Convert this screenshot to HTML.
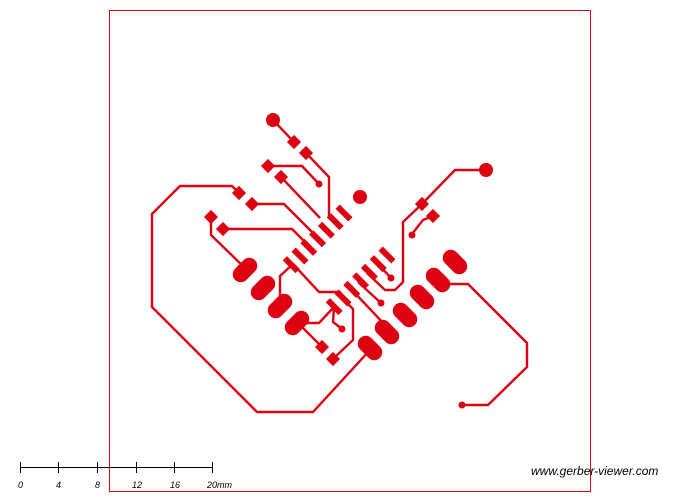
<!DOCTYPE html>
<html><head><meta charset="utf-8"><style>
html,body{margin:0;padding:0;background:#fff;width:700px;height:500px;overflow:hidden}
svg{display:block}
</style></head><body>
<svg id="pcb" width="700" height="500" viewBox="0 0 700 500" xmlns="http://www.w3.org/2000/svg">
<rect x="109.5" y="10.5" width="481" height="481" fill="none" stroke="#e00010" stroke-width="1"/>
<g id="tr" fill="none" stroke="#dd0010" stroke-width="2.4" stroke-linejoin="miter"></g>
<g id="pads" fill="#dd0010"></g>
<g stroke="#000" stroke-width="1">
<line x1="20" y1="467.5" x2="213" y2="467.5"/>
<line x1="20.5" y1="462" x2="20.5" y2="473"/><line x1="58.5" y1="462" x2="58.5" y2="473"/><line x1="97.5" y1="462" x2="97.5" y2="473"/><line x1="136.5" y1="462" x2="136.5" y2="473"/><line x1="174.5" y1="462" x2="174.5" y2="473"/><line x1="212.5" y1="462" x2="212.5" y2="473"/>
</g>
<g font-family="Liberation Sans, sans-serif" font-size="9" font-style="italic" fill="#000">
<text x="18" y="488">0</text><text x="56" y="488">4</text><text x="95" y="488">8</text><text x="132" y="488">12</text><text x="170" y="488">16</text><text x="207" y="488">20mm</text>
</g>
<text x="531" y="475" font-family="Liberation Sans, sans-serif" font-size="12" font-style="italic" fill="#000">www.gerber-viewer.com</text>
</svg>
<script>
var traces=[
"M239,193 L232,186 L180,186 L152,214 L152,307 L257,412 L313,412 L370,350",
"M450,284 L468,284 L527,343 L527,367 L488,405 L462,405",
"M273,120 L294,142",
"M306,153 L329,177 L329,217",
"M268,166 L302,166 L319,184",
"M281,177 L320,218",
"M252,204 L284,204 L312,232",
"M223,229 L292,229 L305,242",
"M211,217 L211,235 L245,268",
"M293,264 L280,276 L280,297",
"M293,264 L319,292 L337,292 L342,298",
"M334,307 L319,323 L303,323",
"M334,307 L333,322 L342,329",
"M303,328 L322,347",
"M342,298 L353,309 L353,340 L333,359",
"M358,282 L381,303",
"M377,263 L391,278",
"M367,273 L385,290 L395,290 L403,282 L403,222 L422,204 L455,170 L486,170",
"M433,216 L423,220 L412,234",
"M351,289 L386,326"
];
var padsSq=[[294,142],[306,153],[268,166],[281,177],[239,193],[252,204],[211,217],[223,229],[422,204],[433,216],[322,347],[333,359]];
var rounds=[[273,120,7],[486,170,7],[360,197,7],[319,184,3.5],[412,235,3.5],[391,278,3.5],[381,303,3.5],[342,329,3.5],[462,405,3.5]];
var ovalsRight=[[455,262],[438,280],[422,297],[405,315],[387,332],[370,348]];
var ovalsLeft=[[245,270],[263,288],[280,306],[297,323]];
var NS="http://www.w3.org/2000/svg";
var tr=document.getElementById('tr'),pd=document.getElementById('pads');
traces.forEach(function(d){var p=document.createElementNS(NS,'path');p.setAttribute('d',d);


tr.appendChild(p);});
padsSq.forEach(function(c){var r=document.createElementNS(NS,'rect');r.setAttribute('x',c[0]-5);r.setAttribute('y',c[1]-5);r.setAttribute('width',10);r.setAttribute('height',10);r.setAttribute('transform','rotate(45 '+c[0]+' '+c[1]+')');


pd.appendChild(r);});
rounds.forEach(function(c){var e=document.createElementNS(NS,'circle');e.setAttribute('cx',c[0]);e.setAttribute('cy',c[1]);e.setAttribute('r',c[2]);


pd.appendChild(e);});
function oval(c,ang){var e=document.createElementNS(NS,'rect');e.setAttribute('x',c[0]-14);e.setAttribute('y',c[1]-8);e.setAttribute('width',28);e.setAttribute('height',16);e.setAttribute('rx',8);e.setAttribute('transform','rotate('+ang+' '+c[0]+' '+c[1]+')');


pd.appendChild(e);}
ovalsRight.forEach(function(c){oval(c,45);});
ovalsLeft.forEach(function(c){oval(c,-45);});
for(var i=0;i<7;i++){[[344,213],[387,255]].forEach(function(s){var cx=s[0]-8.8*i,cy=s[1]+8.6*i;var r=document.createElementNS(NS,'rect');r.setAttribute('x',cx-9);r.setAttribute('y',cy-3);r.setAttribute('width',18);r.setAttribute('height',6);r.setAttribute('transform','rotate(45 '+cx+' '+cy+')');


pd.appendChild(r);});}
</script>
</body></html>
